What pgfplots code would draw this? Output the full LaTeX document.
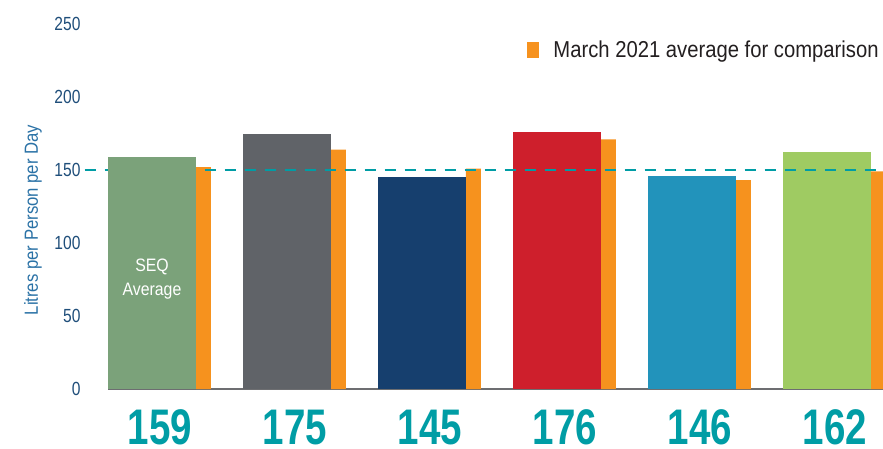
\documentclass[border=0pt]{standalone}
\usepackage{fontspec}
\setmainfont{Liberation Sans}
\newfontfamily\condfont{Liberation Sans}[FakeStretch=0.82]
\newfontfamily\legfont{Liberation Sans}[FakeStretch=0.88]
\newfontfamily\numfont{Liberation Sans}[FakeStretch=0.77]
\usepackage{pgfplots}
\pgfplotsset{compat=1.18}
\definecolor{cgreen}{HTML}{7BA27A}
\definecolor{cgray}{HTML}{606368}
\definecolor{cblue}{HTML}{163F6E}
\definecolor{cred}{HTML}{CE1F2C}
\definecolor{cteal}{HTML}{2293BB}
\definecolor{clgreen}{HTML}{9FCB62}
\definecolor{corange}{HTML}{F6921E}
\definecolor{numteal}{HTML}{009DA5}
\definecolor{ticklab}{HTML}{1F4E7A}
\definecolor{ylab}{HTML}{2B72A6}
\definecolor{legtext}{HTML}{231F20}
\definecolor{axgray}{HTML}{6D6E71}
\tikzset{bignum/.style={font=\numfont\bfseries\fontsize{50}{50}\selectfont, text=numteal,
  anchor=base, inner sep=0pt, text depth=0pt, yshift=-55pt}}
\begin{document}
\begin{tikzpicture}[x=1pt,y=1pt]
\begin{axis}[
  at={(108pt,59pt)}, anchor=south west,
  scale only axis, width=775pt, height=365pt,
  xmin=-0.326, xmax=5.415, ymin=0, ymax=250,
  axis lines*=left,
  y axis line style={draw=none},
  x axis line style={draw=axgray, line width=2.5pt, -},
  xtick=\empty,
  ytick={0,50,100,150,200,250},
  major tick length=0pt,
  /pgf/number format/assume math mode=true,
  yticklabel style={font=\condfont\fontsize{19}{19}\selectfont, text=ticklab, xshift=-24pt},
  clip=false,
  legend style={at={(rel axis cs:0.541,0.929)}, anchor=west, draw=none, fill=none,
    inner sep=0pt, font=\legfont\fontsize{23}{23}\selectfont, text=legtext,
    nodes={inner xsep=14pt}},
  legend image code/.code={\fill[corange] (0pt,-8pt) rectangle (12pt,8pt);},
]
% orange comparison bars (March 2021)
\addplot[ybar, bar width=0.111, bar shift=0pt, fill=corange, draw=none]
  coordinates {(0.38,152) (1.38,164) (2.38,151) (3.38,171) (4.38,143) (5.37,149)};
\addlegendentry{March 2021 average for comparison}
\addplot[ybar, bar width=0.652, bar shift=0pt, fill=cgray, draw=none, forget plot] coordinates {(1,175)};
\addplot[ybar, bar width=0.652, bar shift=0pt, fill=cblue, draw=none, forget plot] coordinates {(2,145)};
\addplot[ybar, bar width=0.652, bar shift=0pt, fill=cred, draw=none, forget plot] coordinates {(3,176)};
\addplot[ybar, bar width=0.652, bar shift=0pt, fill=cteal, draw=none, forget plot] coordinates {(4,146)};
\addplot[ybar, bar width=0.652, bar shift=0pt, fill=clgreen, draw=none, forget plot] coordinates {(5,162)};
\draw[numteal, line width=2pt, dash pattern=on 11pt off 9pt] (axis cs:-0.5,150) -- (axis cs:5.42,150);
\addplot[ybar, bar width=0.652, bar shift=0pt, fill=cgreen, draw=none, forget plot] coordinates {(0,159)};
\node[text=white, align=center, font=\legfont\fontsize{18}{24}\selectfont] at (axis cs:0,75) {SEQ\\Average};
\node[bignum] at (axis cs:0.06,0) {159};
\node[bignum] at (axis cs:1.06,0) {175};
\node[bignum] at (axis cs:2.06,0) {145};
\node[bignum] at (axis cs:3.06,0) {176};
\node[bignum] at (axis cs:4.06,0) {146};
\node[bignum] at (axis cs:5.06,0) {162};
\end{axis}
\node[rotate=90, text=ylab, font=\legfont\fontsize{19}{19}\selectfont] at (33,228) {Litres per Person per Day};
\pgfresetboundingbox
\path[use as bounding box] (0,0) rectangle (883,448);
\end{tikzpicture}
\end{document}
